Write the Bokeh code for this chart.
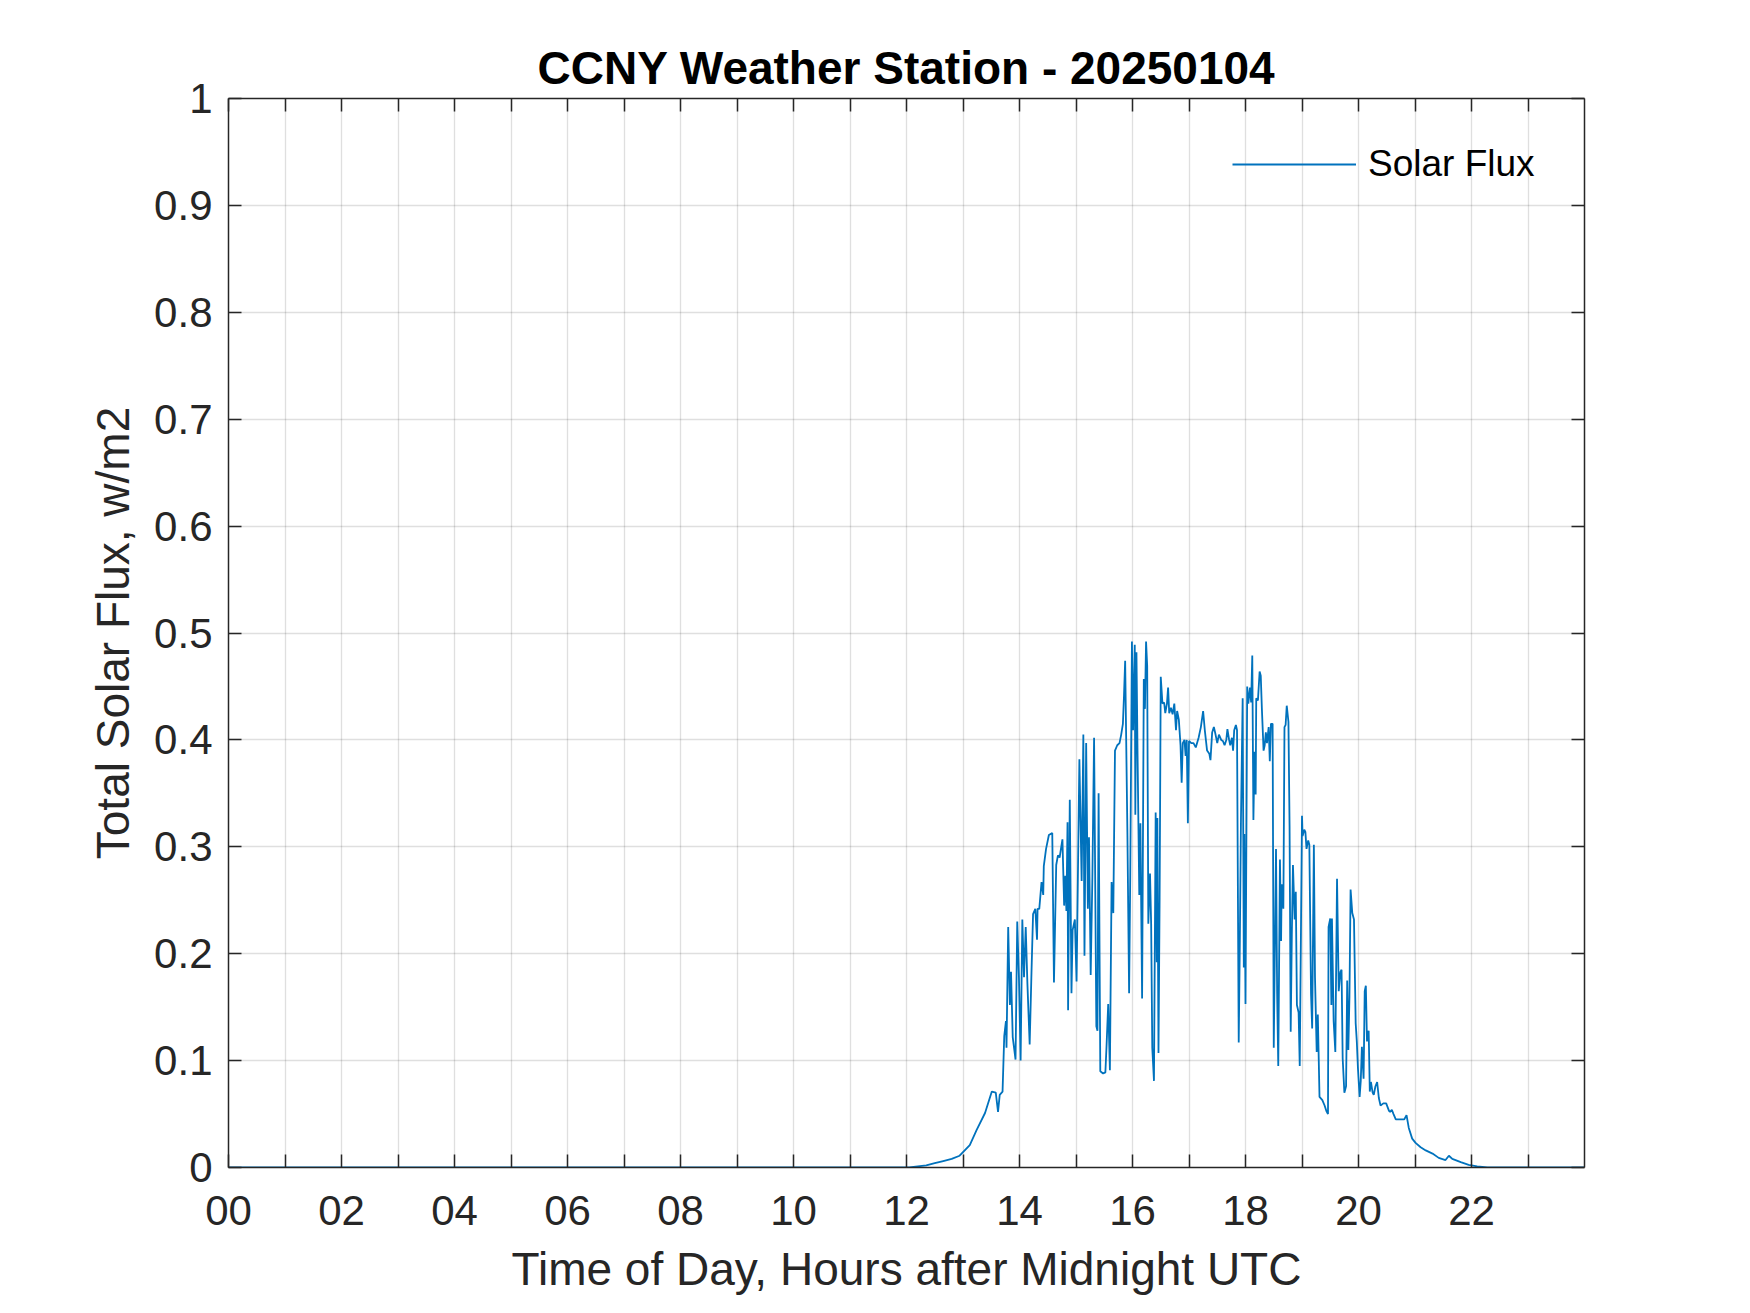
from bokeh.plotting import figure
from bokeh.models import Range1d, FixedTicker, LinearAxis, Legend, LegendItem
from bokeh.embed import file_html
from bokeh.resources import INLINE

# ---------------- data (hours after midnight UTC, total solar flux) ----------------
hours_a = [0.00, 12.05, 12.20, 12.35, 12.50, 12.65, 12.80, 12.94, 13.12, 13.24, 13.39, 13.51, 13.58, 13.62, 13.65, 13.70]
flux_a = [0.000, 0.000, 0.001, 0.002, 0.004, 0.006, 0.008, 0.011, 0.021, 0.035, 0.051, 0.071, 0.070, 0.052, 0.068, 0.071]

hours_b = [13.73, 13.76, 13.77, 13.80, 13.83, 13.85, 13.88, 13.93, 13.96, 13.99,
           14.02, 14.05, 14.08, 14.11, 14.14, 14.18, 14.21, 14.24, 14.28, 14.31,
           14.32, 14.35, 14.39, 14.42, 14.43, 14.47, 14.52, 14.58]
flux_b = [0.123, 0.137, 0.112, 0.225, 0.152, 0.183, 0.122, 0.101, 0.230, 0.178,
          0.100, 0.232, 0.178, 0.225, 0.172, 0.115, 0.178, 0.237, 0.242, 0.213,
          0.242, 0.242, 0.267, 0.255, 0.282, 0.298, 0.311, 0.313]

hours_c = [14.61, 14.65, 14.68, 14.71, 14.76, 14.79, 14.81, 14.83, 14.85, 14.86,
           14.89, 14.92, 14.94, 14.98, 15.01, 15.06, 15.10, 15.13, 15.15, 15.18,
           15.21, 15.23, 15.26, 15.29, 15.32, 15.36, 15.38, 15.40]
flux_c = [0.173, 0.283, 0.292, 0.290, 0.307, 0.245, 0.273, 0.240, 0.323, 0.147,
          0.344, 0.163, 0.222, 0.232, 0.174, 0.382, 0.268, 0.405, 0.198, 0.397,
          0.242, 0.309, 0.180, 0.272, 0.402, 0.132, 0.128, 0.350]

hours_d = [15.43, 15.48, 15.52, 15.54, 15.57, 15.60, 15.63, 15.66, 15.69, 15.73,
           15.77, 15.80, 15.83, 15.85, 15.87, 15.91, 15.94, 15.96, 15.99, 16.01,
           16.04, 16.05, 16.07, 16.09, 16.12, 16.14, 16.17, 16.20, 16.22, 16.24,
           16.26, 16.28, 16.31, 16.33, 16.35, 16.38, 16.41, 16.43, 16.44, 16.46,
           16.48]
flux_d = [0.090, 0.088, 0.089, 0.113, 0.153, 0.091, 0.267, 0.238, 0.390, 0.395,
          0.397, 0.405, 0.415, 0.442, 0.474, 0.312, 0.163, 0.272, 0.492, 0.409,
          0.489, 0.330, 0.482, 0.385, 0.255, 0.322, 0.158, 0.457, 0.429, 0.492,
          0.469, 0.228, 0.275, 0.228, 0.112, 0.081, 0.332, 0.192, 0.327, 0.107,
          0.252]

hours_e = [16.50, 16.53, 16.56, 16.58, 16.61, 16.63, 16.65, 16.68, 16.71, 16.74,
           16.77, 16.79, 16.82, 16.85, 16.87, 16.89, 16.92, 16.94, 16.96, 16.98,
           17.00, 17.04, 17.08, 17.12, 17.17, 17.21, 17.25, 17.28, 17.32, 17.36,
           17.38, 17.41, 17.44, 17.47, 17.50, 17.53, 17.57, 17.60, 17.63, 17.66,
           17.68, 17.71, 17.73, 17.76, 17.78, 17.80, 17.83, 17.85]
flux_e = [0.459, 0.434, 0.435, 0.425, 0.434, 0.449, 0.425, 0.430, 0.424, 0.434,
          0.409, 0.427, 0.419, 0.395, 0.360, 0.397, 0.400, 0.385, 0.400, 0.322,
          0.399, 0.397, 0.397, 0.393, 0.402, 0.412, 0.427, 0.409, 0.390, 0.387,
          0.381, 0.407, 0.412, 0.405, 0.397, 0.405, 0.400, 0.399, 0.395, 0.400,
          0.410, 0.400, 0.395, 0.402, 0.390, 0.409, 0.414, 0.409]

hours_f = [17.88, 17.90, 17.92, 17.95, 17.97, 17.98, 18.00, 18.03, 18.05, 18.08,
           18.10, 18.12, 18.14, 18.16, 18.18, 18.19, 18.22, 18.25, 18.27, 18.29,
           18.32, 18.34, 18.36, 18.38, 18.41, 18.43, 18.45, 18.48]
flux_f = [0.117, 0.212, 0.327, 0.439, 0.187, 0.312, 0.153, 0.450, 0.434, 0.449,
          0.435, 0.479, 0.325, 0.389, 0.349, 0.439, 0.437, 0.464, 0.460, 0.429,
          0.390, 0.395, 0.407, 0.397, 0.412, 0.380, 0.415, 0.415]

hours_g = [18.50, 18.54, 18.56, 18.58, 18.61, 18.63, 18.64, 18.67, 18.69, 18.71,
           18.73, 18.76, 18.78, 18.80, 18.82, 18.84, 18.87, 18.89, 18.91, 18.94,
           18.96, 19.00, 19.01, 19.04, 19.06, 19.08, 19.11, 19.13, 19.16, 19.18,
           19.21, 19.23, 19.26, 19.28, 19.31, 19.36, 19.40, 19.43, 19.46]
flux_g = [0.112, 0.298, 0.163, 0.095, 0.288, 0.212, 0.265, 0.242, 0.412, 0.414,
          0.432, 0.417, 0.319, 0.127, 0.218, 0.283, 0.232, 0.258, 0.152, 0.145,
          0.095, 0.329, 0.310, 0.316, 0.314, 0.298, 0.306, 0.302, 0.162, 0.130,
          0.302, 0.178, 0.108, 0.143, 0.066, 0.063, 0.058, 0.053, 0.050]

hours_h = [19.47, 19.50, 19.52, 19.53, 19.56, 19.59, 19.62, 19.65, 19.68, 19.70,
           19.72, 19.75, 19.78, 19.80, 19.82, 19.84, 19.86, 19.89, 19.92, 19.95,
           19.97, 19.99, 20.02, 20.04, 20.06, 20.09, 20.11, 20.13, 20.15, 20.18,
           20.20, 20.22, 20.25, 20.27, 20.30, 20.33, 20.36, 20.39, 20.44, 20.49,
           20.54]
flux_h = [0.225, 0.233, 0.152, 0.233, 0.137, 0.108, 0.270, 0.165, 0.183, 0.185,
          0.102, 0.070, 0.076, 0.175, 0.110, 0.160, 0.260, 0.238, 0.232, 0.135,
          0.118, 0.093, 0.066, 0.081, 0.113, 0.083, 0.165, 0.170, 0.118, 0.128,
          0.071, 0.080, 0.070, 0.068, 0.076, 0.080, 0.065, 0.058, 0.060, 0.060,
          0.053]

hours_i = [20.56, 20.59, 20.62, 20.66, 20.70, 20.75, 20.81, 20.85, 20.89, 20.95,
           21.01, 21.10, 21.19, 21.31, 21.42, 21.54, 21.60, 21.66, 21.81, 21.95,
           22.10, 22.28, 23.99]
flux_i = [0.052, 0.054, 0.050, 0.045, 0.045, 0.045, 0.045, 0.049, 0.037, 0.027,
          0.023, 0.019, 0.016, 0.013, 0.009, 0.007, 0.011, 0.008, 0.005, 0.0025,
          0.001, 0.000, 0.000]

x_tick_values = list(range(0, 24))
x_tick_labels = ["00", "", "02", "", "04", "", "06", "", "08", "", "10", "",
                 "12", "", "14", "", "16", "", "18", "", "20", "", "22", ""]
y_tick_values = [0.0, 0.1, 0.2, 0.3, 0.4, 0.5, 0.6, 0.7, 0.8, 0.9, 1.0]
y_tick_labels = ["0", "0.1", "0.2", "0.3", "0.4", "0.5", "0.6", "0.7", "0.8", "0.9", "1"]

title_text = "CCNY Weather Station - 20250104"
x_label = "Time of Day, Hours after Midnight UTC"
y_label = "Total Solar Flux, w/m2"
series_name = "Solar Flux"

hours = hours_a + hours_b + hours_c + hours_d + hours_e + hours_f + hours_g + hours_h + hours_i
flux = flux_a + flux_b + flux_c + flux_d + flux_e + flux_f + flux_g + flux_h + flux_i
assert len(hours) == len(flux)

# ---------------- figure ----------------
FONT = "Liberation Sans"
AX = "#262626"

p = figure(width=1734, height=1297,
           x_range=Range1d(0, 24), y_range=Range1d(0, 1),
           output_backend="svg", toolbar_location=None,
           min_border_left=228, min_border_right=150,
           min_border_top=98, min_border_bottom=128)
p.outline_line_color = None
p.background_fill_color = "white"
p.border_fill_color = "white"

r = p.line(hours, flux, line_color="#0072BD", line_width=1.8)

xt = FixedTicker(ticks=x_tick_values)
yt = FixedTicker(ticks=y_tick_values)
x_over = {v: l for v, l in zip(x_tick_values, x_tick_labels)}
y_over = {v: l for v, l in zip(y_tick_values, y_tick_labels)}


def style_axis(ax):
    ax.axis_line_color = AX
    ax.axis_line_width = 1.5
    ax.major_tick_line_color = AX
    ax.major_tick_line_width = 1.5
    ax.major_tick_in = 13
    ax.major_tick_out = 0
    ax.minor_tick_line_color = None
    ax.major_label_text_font = FONT
    ax.major_label_text_font_size = "42px"
    ax.major_label_text_color = AX
    ax.axis_label_text_font = FONT
    ax.axis_label_text_font_size = "46px"
    ax.axis_label_text_font_style = "normal"
    ax.axis_label_text_color = AX


xa = p.xaxis[0]
xa.ticker = xt
xa.major_label_overrides = x_over
xa.axis_label = x_label
style_axis(xa)
xa.major_label_standoff = 28
xa.axis_label_standoff = 15

ya = p.yaxis[0]
ya.ticker = yt
ya.major_label_overrides = y_over
ya.axis_label = y_label
style_axis(ya)
ya.major_label_standoff = 16
ya.axis_label_standoff = 12

top = LinearAxis(ticker=xt)
style_axis(top)
top.major_label_text_font_size = "0px"
top.major_label_standoff = 0
top.major_label_overrides = {v: "" for v in x_tick_values}
p.add_layout(top, "above")

right = LinearAxis(ticker=yt)
style_axis(right)
right.major_label_text_font_size = "0px"
right.major_label_standoff = 0
right.major_label_overrides = {v: "" for v in y_tick_values}
p.add_layout(right, "right")

p.xgrid.ticker = xt
p.ygrid.ticker = yt
for g in (p.xgrid, p.ygrid):
    g.grid_line_color = AX
    g.grid_line_alpha = 0.15
    g.grid_line_width = 1.3

p.title.text = title_text
p.title.align = "center"
p.title.text_font = FONT
p.title.text_font_size = "46px"
p.title.text_font_style = "bold"
p.title.text_color = "black"
p.title.standoff = 9

legend = Legend(items=[LegendItem(label=series_name, renderers=[r])],
                location=(1004, 982), border_line_color=None,
                background_fill_alpha=0, glyph_width=124, glyph_height=38,
                label_height=38, label_standoff=12, padding=0, margin=0,
                spacing=0, label_text_font=FONT, label_text_font_size="37px",
                label_text_color="black")
p.add_layout(legend)

open("out.html", "w").write(file_html(p, INLINE))
